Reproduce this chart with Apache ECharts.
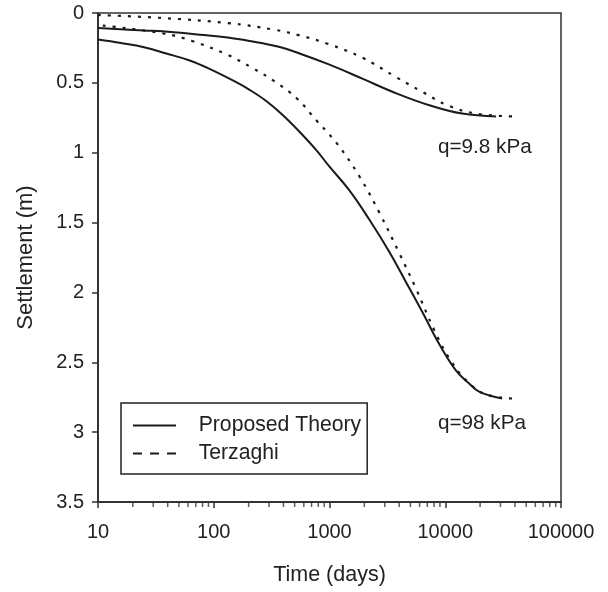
<!DOCTYPE html>
<html>
<head>
<meta charset="utf-8">
<script src="https://cdn.jsdelivr.net/npm/echarts@6/dist/echarts.min.js"></script>
<style>html,body{margin:0;padding:0;background:#fff}#c{width:608px;height:592px}</style>
</head>
<body>
<div id="c"></div>
<script>
// Data: [time (days), settlement (m)]
const proposedLow = [[10,0.107],[25,0.125],[36,0.13],[76,0.155],[132,0.175],[204,0.20],[357,0.24],[551,0.29],[1000,0.37],[1923,0.47],[3780,0.575],[7280,0.66],[14000,0.72],[27500,0.74]];
const proposedHigh = [[10,0.19],[15.8,0.215],[25,0.245],[39,0.29],[62,0.34],[92,0.40],[152,0.49],[204,0.55],[284,0.63],[394,0.73],[551,0.85],[766,0.98],[1000,1.10],[1486,1.27],[2213,1.48],[3290,1.71],[4610,1.93],[6340,2.14],[8870,2.37],[12400,2.56],[16000,2.65],[19600,2.71],[31000,2.76]];
const terzaghiLow = [[10,0.014],[36,0.036],[132,0.072],[336,0.12],[551,0.16],[962,0.22],[1923,0.32],[3780,0.46],[6350,0.565],[10800,0.665],[18500,0.72],[38000,0.74]];
const terzaghiHigh = [[11,0.09],[36,0.145],[65,0.20],[132,0.30],[212,0.39],[336,0.49],[520,0.61],[773,0.77],[1150,0.93],[1815,1.17],[2700,1.43],[4010,1.72],[5500,1.96],[8040,2.27],[10800,2.47],[15200,2.63],[22500,2.73],[41000,2.76]];
const minorTickValues = [20,30,40,50,60,70,80,90,200,300,400,500,600,700,800,900,2000,3000,4000,5000,6000,7000,8000,9000,20000,30000,40000,50000,60000,70000,80000,90000];
const seriesNames = ['Proposed Theory','Terzaghi'];
const annotations = ['q=9.8 kPa','q=98 kPa'];

const FONT = '"Liberation Sans", Arial, sans-serif';
const INK = '#1a1a1a';
const chart = echarts.init(document.getElementById('c'), null, {renderer:'canvas'});

function lineSeries(name, data, dashed){
  return {
    name: name, type: 'line', data: data, symbol: 'none', showSymbol: false,
    smooth: 0.4,
    lineStyle: {color: INK, width: dashed ? 2.2 : 2, type: dashed ? [3,7] : 'solid'},
    itemStyle: {color: INK}, z: 3
  };
}

chart.setOption({
  animation: false,
  backgroundColor: '#fff',
  grid: {left: 98, right: 47, top: 13, bottom: 90, show: true, borderColor: '#333', borderWidth: 1.5},
  xAxis: {
    type: 'log', logBase: 10, min: 10, max: 100000,
    name: 'Time (days)', nameLocation: 'middle', nameGap: 62,
    nameTextStyle: {fontFamily: FONT, fontSize: 21.5, color: '#222'},
    axisLine: {show: true, onZero: false, lineStyle: {color: '#333', width: 2}},
    axisTick: {show: true, inside: false, length: 6, lineStyle: {color: '#333', width: 1.5}},
    axisLabel: {fontFamily: FONT, fontSize: 20, color: '#222', margin: 20, formatter: v => String(Math.round(v))},
    splitLine: {show: false}
  },
  yAxis: {
    type: 'value', inverse: true, min: 0, max: 3.5, interval: 0.5,
    name: 'Settlement (m)', nameLocation: 'middle', nameGap: 61,
    nameTextStyle: {fontFamily: FONT, fontSize: 22, color: '#222'},
    axisLine: {show: true, onZero: false, lineStyle: {color: '#333', width: 2}},
    axisTick: {show: true, inside: false, length: 6, lineStyle: {color: '#333', width: 1.5}},
    axisLabel: {fontFamily: FONT, fontSize: 20, color: '#222', margin: 14},
    splitLine: {show: false}
  },
  legend: {
    show: true, orient: 'vertical', left: 121, top: 403,
    backgroundColor: '#fff', borderColor: '#222', borderWidth: 1.5,
    padding: [12, 6, 10, 11],
    itemWidth: 43, itemHeight: 14, itemGap: 7,
    formatter: n => '   ' + n,
    textStyle: {fontFamily: FONT, fontSize: 21.2, color: '#222'},
    data: [
      {name: seriesNames[0], itemStyle: {opacity: 0}, lineStyle: {color: INK, width: 2, type: 'solid'}},
      {name: seriesNames[1], itemStyle: {opacity: 0}, lineStyle: {color: INK, width: 2, type: [9,8]}}
    ]
  },
  graphic: [
    {type: 'text', left: 438, top: 137, style: {text: annotations[0], font: '20.7px ' + FONT, fill: '#222'}},
    {type: 'text', left: 438, top: 413, style: {text: annotations[1], font: '20.7px ' + FONT, fill: '#222'}}
  ],
  series: [
    lineSeries(seriesNames[0], proposedLow, false),
    lineSeries(seriesNames[0], proposedHigh, false),
    lineSeries(seriesNames[1], terzaghiLow, true),
    lineSeries(seriesNames[1], terzaghiHigh, true),
    {
      name: 'minorTicks', type: 'scatter', silent: true, clip: false,
      data: minorTickValues.map(v => [v, 3.5]),
      symbol: 'rect', symbolSize: [1.5, 4], symbolOffset: [0, 3],
      itemStyle: {color: '#333'}, z: 4
    }
  ]
});
</script>
</body>
</html>
